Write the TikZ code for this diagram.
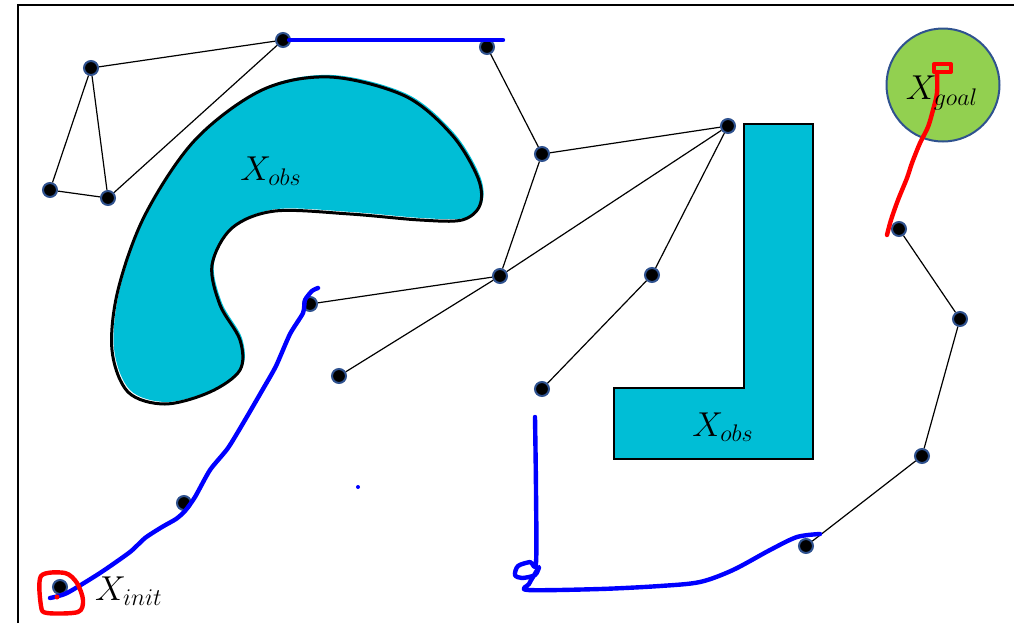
\documentclass[tikz,border=0pt]{standalone}
\usepackage{tikz}
\usetikzlibrary{positioning}
\definecolor{obscyan}{RGB}{0,190,214}
\definecolor{ringblue}{RGB}{47,82,143}
\definecolor{goalgreen}{RGB}{146,208,80}
\definecolor{pathblue}{RGB}{0,0,255}
\definecolor{pathred}{RGB}{255,0,0}

\begin{document}
\begin{tikzpicture}[x=0.5pt, y=-0.5pt,
  every node/.style={circle, draw=ringblue, fill=black, line width=1pt, inner sep=0pt, minimum size=7pt},
  lbl/.style={draw=none, fill=none, rectangle, minimum size=0pt, inner sep=1pt, font=\LARGE},
  scribble/.style={line width=2.2pt, line cap=round, line join=round}]
  \useasboundingbox (0,0) rectangle (1014,623);
  % frame
  \draw[line width=1.2pt] (18,623) -- (18,5) -- (1014,5);

  % obstacles
  \def\blob{(330,77) (405,96) (452,135) (478,178) (480,205) (462,220) (420,220)
    (350,214) (275,211) (232,228) (212,265) (220,305) (240,340) (240,370) (210,392)
    (165,404) (128,392) (112,350) (118,290) (145,215) (195,140) (262,90)}
  \fill[obscyan, xshift=1pt, yshift=1pt] plot[smooth cycle, tension=0.55] coordinates {\blob};
  \draw[line width=1.5pt] plot[smooth cycle, tension=0.55] coordinates {\blob};
  \draw[fill=obscyan, line width=1.2pt] (744,124) -- (813,124) -- (813,459) -- (614,459)
    -- (614,388) -- (744,388) -- cycle;
  \draw[fill=goalgreen, draw=ringblue, line width=1pt] (943,85) circle[radius=56.5];

  % roadmap vertices
  \node (v1) at (91,68) {};
  \node (v2) at (50,190) {};
  \node (v3) at (108,198) {};
  \node (v4) at (283,40) {};
  \node (v5) at (487,47) {};
  \node (v6) at (542,154) {};
  \node (v7) at (728,126) {};
  \node (v8) at (500,276) {};
  \node (v9) at (652,275) {};
  \node (v10) at (310,304) {};
  \node (v11) at (339,376) {};
  \node (v12) at (542,389) {};
  \node (v13) at (184,503) {};
  \node (init) at (60,587) {};
  \node (v15) at (899,229) {};
  \node (v16) at (960,319) {};
  \node (v17) at (922,456) {};
  \node (v18) at (806,546) {};

  % roadmap edges
  \foreach \a/\b in {v1/v4, v1/v2, v1/v3, v2/v3, v3/v4, v5/v6, v6/v7, v6/v8, v8/v7,
                     v7/v9, v9/v12, v8/v10, v8/v11, v15/v16, v16/v17, v17/v18}
    \draw[line width=0.6pt] (\a) -- (\b);

  % hand-drawn paths
  \draw[scribble, pathblue] (289,40) -- (503,40);
  \draw[scribble, pathblue] plot[smooth, tension=0.4] coordinates {
    (50,598) (67,593) (100,573) (130,552) (145,538) (162,527) (176,519) (185,511)
    (195,497) (210,470) (228,448) (245,420) (263,389) (276,366) (290,334) (303,313)
    (305,300) (312,291) (318,288)};
  \draw[scribble, pathblue] plot[smooth, tension=0.5] coordinates {
    (535,417) (536,490) (536,563) (530,562) (518,566) (515,575) (522,578) (535,575)
    (539,567) (533,577) (529,584) (528,590) (600,589) (660,586) (700,582) (733,570)
    (770,550) (797,537) (820,534)};
  \fill[pathblue] (358,487) circle[radius=2];
  \draw[scribble, pathred, line width=2pt] (934,64) rectangle (951,72);
  \draw[scribble, pathred] plot[smooth, tension=0.5] coordinates {
    (937,72) (937,93) (933,110) (928,127) (920,143) (912,163) (907,178) (898,200)
    (891,220) (887,235)};
  \draw[scribble, pathred] plot[smooth cycle, tension=0.5] coordinates {
    (41,576) (65,573) (77,583) (83,600) (78,612) (47,613) (41,606)};
  \fill[pathred] (57,597) circle[radius=2.5];

  % labels
  \node[lbl] (obsa) at (271,171) {$X_{obs}$};
  \node[lbl] (obsb) at (723,427) {$X_{obs}$};
  \node[lbl] (goal) at (942,93) {$X_{goal}$};
  \node[lbl, right=12pt of init, yshift=-2pt] (initlbl) {$X_{init}$};
\end{tikzpicture}
\end{document}
